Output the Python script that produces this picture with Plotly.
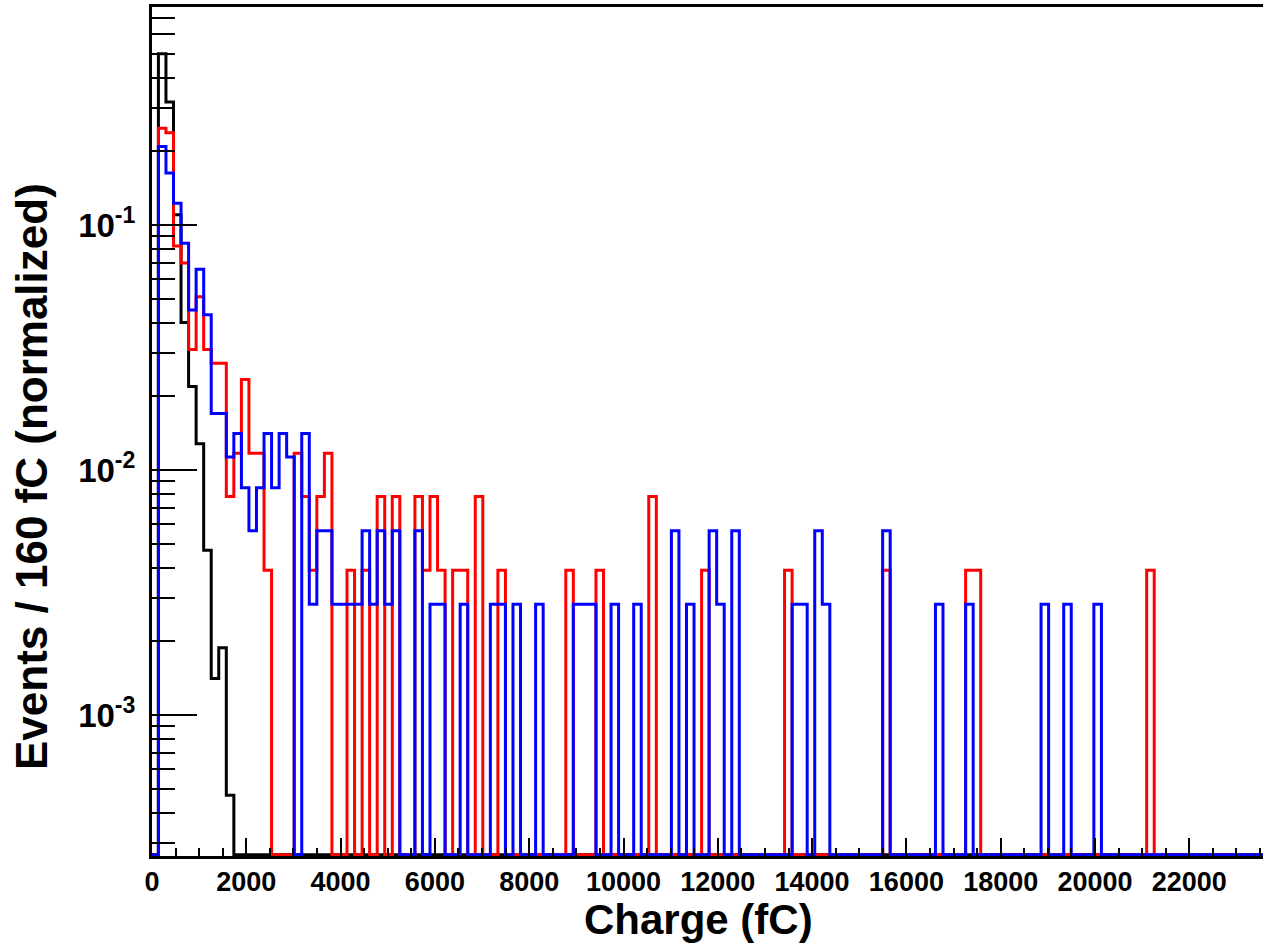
import plotly.graph_objects as go

# ---------------- data (normalized events per 160 fC bin) ----------------
BIN_WIDTH_FC = 160
FIRST_EDGE_FC = -24          # low edge of bin 0
N_BINS = 149

# bin 0 = [-24,136), bin 1 = [136,296), ...
black_vals = [0, 0.50, 0.318, 0.11, 0.040, 0.0219, 0.0128, 0.0047, 0.00141, 0.00188, 0.00047]

red_vals = [0,
    0.248, 0.238, 0.082, 0.070, 0.031, 0.051, 0.031, 0.0273, 0.0273, 0.0078,
    0.0117, 0.0234, 0.0117, 0.0117, 0.0039, 0, 0, 0, 0.0117, 0.0078,
    0.0039, 0.0078, 0.0117, 0, 0, 0.0039, 0, 0.0039, 0, 0.0078,
    0, 0.0078, 0, 0, 0.0078, 0.0039, 0.0078, 0.0039, 0, 0.0039,
    0.0039, 0, 0.0078, 0, 0, 0.0039, 0, 0, 0, 0,
    0, 0, 0, 0, 0.0039, 0, 0, 0, 0.0039, 0,
    0, 0, 0, 0, 0, 0.0078, 0, 0, 0, 0,
    0, 0, 0.0039, 0, 0, 0, 0, 0, 0, 0,
    0, 0, 0, 0.0039, 0, 0, 0, 0, 0, 0,
    0, 0, 0, 0, 0, 0, 0.0039, 0, 0, 0,
    0, 0, 0, 0, 0, 0, 0, 0.0039, 0.0039, 0,
    0, 0, 0, 0, 0, 0, 0, 0, 0, 0,
    0, 0, 0, 0, 0, 0, 0, 0, 0, 0,
    0, 0.0039]

blue_vals = [0,
    0.209, 0.163, 0.1226, 0.0842, 0.045, 0.066, 0.043, 0.017, 0.017, 0.0113,
    0.0141, 0.00847, 0.00565, 0.00847, 0.0141, 0.00847, 0.0141, 0.0113, 0, 0.0141,
    0.00283, 0.00565, 0.00565, 0.00283, 0.00283, 0.00283, 0.00283, 0.00565, 0.00283, 0.00565,
    0.00283, 0.00565, 0, 0, 0.00565, 0, 0.00283, 0.00283, 0, 0,
    0.00283, 0, 0, 0, 0.00283, 0.00283, 0, 0.00283, 0, 0,
    0.00283, 0, 0, 0, 0, 0.00283, 0.00283, 0.00283, 0, 0,
    0.00283, 0, 0, 0.00283, 0, 0, 0, 0, 0.00565, 0,
    0.00283, 0, 0, 0.00565, 0.00283, 0, 0.00565, 0, 0, 0,
    0, 0, 0, 0, 0.00283, 0.00283, 0, 0.00565, 0.00283, 0,
    0, 0, 0, 0, 0, 0, 0.00565, 0, 0, 0,
    0, 0, 0, 0.00283, 0, 0, 0, 0.00283, 0, 0,
    0, 0, 0, 0, 0, 0, 0, 0.00283, 0, 0,
    0.00283, 0, 0, 0, 0.00283]

x_major_ticks = [0, 2000, 4000, 6000, 8000, 10000, 12000, 14000, 16000, 18000, 20000, 22000]
y_major_ticks = [1e-3, 1e-2, 1e-1]
y_major_text = ["10<sup>-3</sup>", "10<sup>-2</sup>", "10<sup>-1</sup>"]

X_TITLE = "Charge (fC)"
Y_TITLE = "Events / 160 fC (normalized)"

X_RANGE = [0, 23563]
LOG_Y_RANGE = [-3.5755, -0.1102]

# ---------------- figure ----------------
W, H = 1263, 944
ML, MR, MT, MB = 152, 0, 7, 88
PLOT_W = W - ML - MR
PLOT_H = H - MT - MB
DECADE_PX = PLOT_H / (LOG_Y_RANGE[1] - LOG_Y_RANGE[0])
floor_val = 10 ** (LOG_Y_RANGE[0] + 1.2 / DECADE_PX)   # empty bins drawn on the frame bottom

edges = [FIRST_EDGE_FC + BIN_WIDTH_FC * i for i in range(N_BINS + 1)]


def step_xy(vals):
    v = list(vals) + [0] * (N_BINS - len(vals))
    v = [val if val > 0 else floor_val for val in v]
    xs = [edges[0]] + edges[:-1] + [edges[-1]]
    ys = [floor_val] + v + [v[-1]]
    return xs, ys


fig = go.Figure()
for vals, col in [(black_vals, "#000000"), (red_vals, "#ff0000"), (blue_vals, "#0000ff")]:
    xs, ys = step_xy(vals)
    fig.add_trace(go.Scatter(x=xs, y=ys, mode="lines", line=dict(color=col, width=3, shape="hv"),
                             hoverinfo="skip", showlegend=False))

FONT = "Liberation Sans, Arial, Helvetica, sans-serif"

y_minor = []
for dec in [1e-4, 1e-3, 1e-2, 1e-1]:
    for m in range(2, 10):
        y_minor.append(m * dec)

fig.update_layout(
    width=W, height=H,
    margin=dict(l=ML, r=MR, t=MT, b=MB),
    paper_bgcolor="white", plot_bgcolor="white",
    font=dict(family=FONT, color="black"),
    xaxis=dict(
        range=X_RANGE, showgrid=False, zeroline=False,
        showline=True, linecolor="black", linewidth=3, mirror=True,
        ticks="inside", ticklen=18, tickwidth=2, tickcolor="black",
        tickmode="array", tickvals=x_major_ticks, ticktext=[str(t) for t in x_major_ticks],
        tickfont=dict(family=FONT, size=27, weight="bold", color="black"),
        minor=dict(ticks="inside", ticklen=8, tickwidth=2, tickcolor="black", dtick=500, tick0=0),
    ),
    yaxis=dict(
        type="log", range=LOG_Y_RANGE, showgrid=False, zeroline=False,
        showline=True, linecolor="black", linewidth=3, mirror=False,
        ticks="inside", ticklen=45, tickwidth=2, tickcolor="black",
        tickmode="array", tickvals=y_major_ticks, ticktext=y_major_text,
        tickfont=dict(family=FONT, size=33, weight="bold", color="black"),
        ticklabelstandoff=7,
        minor=dict(ticks="inside", ticklen=23, tickwidth=2, tickcolor="black",
                   tickmode="array", tickvals=y_minor),
    ),
    annotations=[
        dict(text=X_TITLE, xref="paper", yref="paper", x=(698 - ML) / PLOT_W, y=0,
             xanchor="center", yanchor="middle", yshift=-(919 - (H - MB)), showarrow=False,
             borderpad=0, font=dict(family=FONT, size=42, weight="bold", color="black")),
        dict(text=Y_TITLE, xref="paper", yref="paper", x=0, y=(H - MB - 477) / PLOT_H,
             xanchor="center", yanchor="middle", xshift=32 - ML, textangle=-90, showarrow=False,
             font=dict(family=FONT, size=44, weight="bold", color="black")),
    ],
)

fig.write_html("out.html")
